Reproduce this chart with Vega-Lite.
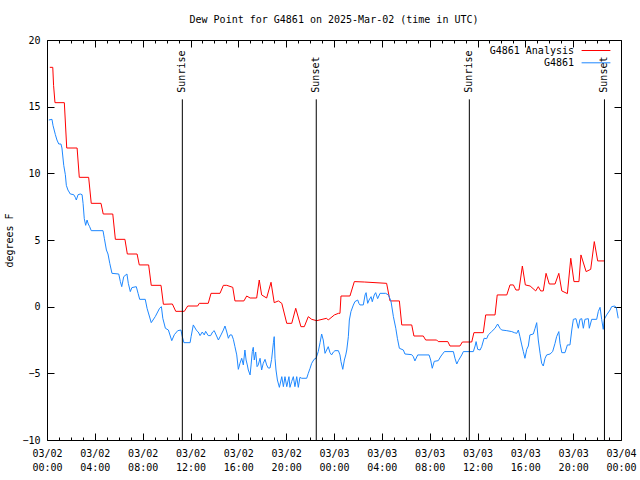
{
  "$schema": "https://vega.github.io/schema/vega-lite/v6.json",
  "width": 574,
  "height": 400,
  "autosize": {"type": "none"},
  "padding": {"left": 47, "top": 40, "right": 19, "bottom": 40},
  "background": "white",
  "config": {
    "font": "DejaVu Sans Mono",
    "view": {"stroke": "black", "strokeWidth": 1},
    "axis": {"domain": false, "grid": false, "labelFont": "DejaVu Sans Mono", "labelFontSize": 10, "labelColor": "black", "tickColor": "black", "titleFont": "DejaVu Sans Mono", "titleFontSize": 10, "titleFontWeight": "normal", "titleColor": "black"},
    "legend": {"labelFont": "DejaVu Sans Mono", "labelFontSize": 10, "labelColor": "black"}
  },
  "title": {"text": "Dew Point for G4861 on 2025-Mar-02 (time in UTC)", "font": "DejaVu Sans Mono", "fontSize": 10, "fontWeight": "normal", "color": "black", "anchor": "middle", "frame": "group", "offset": 10},
  "datasets": {
    "ana": [
      {"t": "2025-03-02T00:14:00Z", "v": 17.95}, {"t": "2025-03-02T00:29:00Z", "v": 17.95}, {"t": "2025-03-02T00:33:00Z", "v": 16.6}, {"t": "2025-03-02T00:40:00Z", "v": 15.3},
      {"t": "2025-03-02T01:27:00Z", "v": 15.3}, {"t": "2025-03-02T01:39:00Z", "v": 11.9}, {"t": "2025-03-02T02:31:00Z", "v": 11.9}, {"t": "2025-03-02T02:42:00Z", "v": 9.7},
      {"t": "2025-03-02T03:29:00Z", "v": 9.7}, {"t": "2025-03-02T03:42:00Z", "v": 7.75}, {"t": "2025-03-02T04:31:00Z", "v": 7.75}, {"t": "2025-03-02T04:42:00Z", "v": 6.95},
      {"t": "2025-03-02T05:30:00Z", "v": 6.95}, {"t": "2025-03-02T05:43:00Z", "v": 5.05}, {"t": "2025-03-02T06:31:00Z", "v": 5.05}, {"t": "2025-03-02T06:43:00Z", "v": 3.95},
      {"t": "2025-03-02T07:32:00Z", "v": 3.95}, {"t": "2025-03-02T07:43:00Z", "v": 3.13}, {"t": "2025-03-02T08:30:00Z", "v": 3.13}, {"t": "2025-03-02T08:43:00Z", "v": 1.6},
      {"t": "2025-03-02T09:32:00Z", "v": 1.6}, {"t": "2025-03-02T09:44:00Z", "v": 0.18}, {"t": "2025-03-02T10:29:00Z", "v": 0.2}, {"t": "2025-03-02T10:46:00Z", "v": -0.35},
      {"t": "2025-03-02T11:29:00Z", "v": -0.35}, {"t": "2025-03-02T11:46:00Z", "v": 0.05}, {"t": "2025-03-02T12:36:00Z", "v": 0.05}, {"t": "2025-03-02T12:44:00Z", "v": 0.25},
      {"t": "2025-03-02T13:29:00Z", "v": 0.25}, {"t": "2025-03-02T13:43:00Z", "v": 1.0}, {"t": "2025-03-02T14:28:00Z", "v": 1.0}, {"t": "2025-03-02T14:45:00Z", "v": 1.6},
      {"t": "2025-03-02T15:02:00Z", "v": 1.6}, {"t": "2025-03-02T15:32:00Z", "v": 1.45}, {"t": "2025-03-02T15:43:00Z", "v": 0.43}, {"t": "2025-03-02T16:28:00Z", "v": 0.43},
      {"t": "2025-03-02T16:42:00Z", "v": 0.8}, {"t": "2025-03-02T16:59:00Z", "v": 0.65}, {"t": "2025-03-02T17:32:00Z", "v": 0.65}, {"t": "2025-03-02T17:45:00Z", "v": 2.0},
      {"t": "2025-03-02T17:57:00Z", "v": 0.88}, {"t": "2025-03-02T18:22:00Z", "v": 0.65}, {"t": "2025-03-02T18:44:00Z", "v": 1.83}, {"t": "2025-03-02T19:00:00Z", "v": 0.3},
      {"t": "2025-03-02T19:21:00Z", "v": 0.43}, {"t": "2025-03-02T19:38:00Z", "v": 0.25}, {"t": "2025-03-02T20:03:00Z", "v": -1.25}, {"t": "2025-03-02T20:28:00Z", "v": -1.25},
      {"t": "2025-03-02T20:48:00Z", "v": -0.12}, {"t": "2025-03-02T21:14:00Z", "v": -1.5}, {"t": "2025-03-02T21:31:00Z", "v": -1.5}, {"t": "2025-03-02T21:51:00Z", "v": -0.75},
      {"t": "2025-03-02T22:08:00Z", "v": -0.95}, {"t": "2025-03-02T22:33:00Z", "v": -1.05}, {"t": "2025-03-02T23:23:00Z", "v": -0.87}, {"t": "2025-03-02T23:31:00Z", "v": -1.0},
      {"t": "2025-03-03T00:02:00Z", "v": -0.62}, {"t": "2025-03-03T00:22:00Z", "v": -0.5}, {"t": "2025-03-03T00:30:00Z", "v": -0.5}, {"t": "2025-03-03T00:35:00Z", "v": 0.8},
      {"t": "2025-03-03T01:20:00Z", "v": 0.8}, {"t": "2025-03-03T01:42:00Z", "v": 1.88}, {"t": "2025-03-03T02:32:00Z", "v": 1.85}, {"t": "2025-03-03T04:24:00Z", "v": 1.75},
      {"t": "2025-03-03T04:41:00Z", "v": 0.43}, {"t": "2025-03-03T05:28:00Z", "v": 0.43}, {"t": "2025-03-03T05:40:00Z", "v": -1.37}, {"t": "2025-03-03T06:30:00Z", "v": -1.37},
      {"t": "2025-03-03T06:41:00Z", "v": -2.2}, {"t": "2025-03-03T07:28:00Z", "v": -2.2}, {"t": "2025-03-03T07:40:00Z", "v": -2.5}, {"t": "2025-03-03T08:35:00Z", "v": -2.5},
      {"t": "2025-03-03T08:43:00Z", "v": -2.62}, {"t": "2025-03-03T09:31:00Z", "v": -2.62}, {"t": "2025-03-03T09:42:00Z", "v": -2.95}, {"t": "2025-03-03T10:32:00Z", "v": -2.95},
      {"t": "2025-03-03T10:44:00Z", "v": -2.65}, {"t": "2025-03-03T11:31:00Z", "v": -2.65}, {"t": "2025-03-03T11:42:00Z", "v": -1.95}, {"t": "2025-03-03T12:29:00Z", "v": -1.95},
      {"t": "2025-03-03T12:41:00Z", "v": -0.62}, {"t": "2025-03-03T13:28:00Z", "v": -0.62}, {"t": "2025-03-03T13:39:00Z", "v": 0.88}, {"t": "2025-03-03T14:27:00Z", "v": 0.88},
      {"t": "2025-03-03T14:43:00Z", "v": 1.63}, {"t": "2025-03-03T15:00:00Z", "v": 1.63}, {"t": "2025-03-03T15:13:00Z", "v": 1.25}, {"t": "2025-03-03T15:28:00Z", "v": 1.25},
      {"t": "2025-03-03T15:45:00Z", "v": 3.05}, {"t": "2025-03-03T16:00:00Z", "v": 1.63}, {"t": "2025-03-03T16:24:00Z", "v": 1.55}, {"t": "2025-03-03T16:52:00Z", "v": 1.18},
      {"t": "2025-03-03T17:05:00Z", "v": 1.5}, {"t": "2025-03-03T17:17:00Z", "v": 1.18}, {"t": "2025-03-03T17:30:00Z", "v": 1.18}, {"t": "2025-03-03T17:44:00Z", "v": 2.5},
      {"t": "2025-03-03T18:00:00Z", "v": 1.7}, {"t": "2025-03-03T18:29:00Z", "v": 1.7}, {"t": "2025-03-03T18:48:00Z", "v": 2.5}, {"t": "2025-03-03T19:03:00Z", "v": 1.18},
      {"t": "2025-03-03T19:31:00Z", "v": 0.98}, {"t": "2025-03-03T19:48:00Z", "v": 3.63}, {"t": "2025-03-03T20:04:00Z", "v": 1.88}, {"t": "2025-03-03T20:29:00Z", "v": 1.88},
      {"t": "2025-03-03T20:39:00Z", "v": 3.88}, {"t": "2025-03-03T21:05:00Z", "v": 2.63}, {"t": "2025-03-03T21:28:00Z", "v": 2.8}, {"t": "2025-03-03T21:46:00Z", "v": 4.88},
      {"t": "2025-03-03T22:03:00Z", "v": 3.43}, {"t": "2025-03-03T22:36:00Z", "v": 3.43}
    ],
    "obs": [
      {"t": "2025-03-02T00:09:00Z", "v": 14.0}, {"t": "2025-03-02T00:25:00Z", "v": 14.05}, {"t": "2025-03-02T00:30:00Z", "v": 13.6}, {"t": "2025-03-02T00:42:00Z", "v": 12.9},
      {"t": "2025-03-02T00:50:00Z", "v": 12.5}, {"t": "2025-03-02T00:59:00Z", "v": 12.2}, {"t": "2025-03-02T01:10:00Z", "v": 12.2}, {"t": "2025-03-02T01:15:00Z", "v": 11.9},
      {"t": "2025-03-02T01:24:00Z", "v": 10.6}, {"t": "2025-03-02T01:32:00Z", "v": 9.9}, {"t": "2025-03-02T01:37:00Z", "v": 9.1}, {"t": "2025-03-02T01:45:00Z", "v": 8.75},
      {"t": "2025-03-02T01:57:00Z", "v": 8.45}, {"t": "2025-03-02T02:14:00Z", "v": 8.4}, {"t": "2025-03-02T02:22:00Z", "v": 8.2}, {"t": "2025-03-02T02:27:00Z", "v": 8.0},
      {"t": "2025-03-02T02:36:00Z", "v": 8.4}, {"t": "2025-03-02T02:47:00Z", "v": 8.45}, {"t": "2025-03-02T02:56:00Z", "v": 8.4}, {"t": "2025-03-02T03:01:00Z", "v": 7.75},
      {"t": "2025-03-02T03:07:00Z", "v": 6.6}, {"t": "2025-03-02T03:14:00Z", "v": 6.1}, {"t": "2025-03-02T03:21:00Z", "v": 6.5}, {"t": "2025-03-02T03:27:00Z", "v": 6.2},
      {"t": "2025-03-02T03:34:00Z", "v": 6.0}, {"t": "2025-03-02T03:42:00Z", "v": 5.7}, {"t": "2025-03-02T04:41:00Z", "v": 5.7}, {"t": "2025-03-02T04:48:00Z", "v": 5.1},
      {"t": "2025-03-02T04:58:00Z", "v": 4.25}, {"t": "2025-03-02T05:06:00Z", "v": 3.95}, {"t": "2025-03-02T05:15:00Z", "v": 3.25}, {"t": "2025-03-02T05:26:00Z", "v": 2.5},
      {"t": "2025-03-02T06:00:00Z", "v": 2.45}, {"t": "2025-03-02T06:08:00Z", "v": 1.88}, {"t": "2025-03-02T06:15:00Z", "v": 1.5}, {"t": "2025-03-02T06:25:00Z", "v": 2.25},
      {"t": "2025-03-02T06:41:00Z", "v": 2.45}, {"t": "2025-03-02T06:48:00Z", "v": 1.75}, {"t": "2025-03-02T06:58:00Z", "v": 1.13}, {"t": "2025-03-02T07:06:00Z", "v": 1.43},
      {"t": "2025-03-02T07:28:00Z", "v": 1.5}, {"t": "2025-03-02T07:37:00Z", "v": 1.0}, {"t": "2025-03-02T07:45:00Z", "v": 0.55}, {"t": "2025-03-02T08:13:00Z", "v": 0.55},
      {"t": "2025-03-02T08:22:00Z", "v": -0.12}, {"t": "2025-03-02T08:43:00Z", "v": -1.2}, {"t": "2025-03-02T09:03:00Z", "v": -0.75}, {"t": "2025-03-02T09:25:00Z", "v": -0.12},
      {"t": "2025-03-02T09:34:00Z", "v": 0.0}, {"t": "2025-03-02T09:41:00Z", "v": -0.87}, {"t": "2025-03-02T09:54:00Z", "v": -1.62}, {"t": "2025-03-02T10:09:00Z", "v": -1.75},
      {"t": "2025-03-02T10:26:00Z", "v": -2.55}, {"t": "2025-03-02T10:39:00Z", "v": -2.1}, {"t": "2025-03-02T10:56:00Z", "v": -1.8}, {"t": "2025-03-02T11:12:00Z", "v": -1.75},
      {"t": "2025-03-02T11:19:00Z", "v": -2.25}, {"t": "2025-03-02T11:27:00Z", "v": -2.7}, {"t": "2025-03-02T11:58:00Z", "v": -2.7}, {"t": "2025-03-02T12:03:00Z", "v": -2.25},
      {"t": "2025-03-02T12:14:00Z", "v": -1.37}, {"t": "2025-03-02T12:23:00Z", "v": -1.6}, {"t": "2025-03-02T12:31:00Z", "v": -1.8}, {"t": "2025-03-02T12:39:00Z", "v": -1.9},
      {"t": "2025-03-02T12:48:00Z", "v": -2.17}, {"t": "2025-03-02T12:59:00Z", "v": -1.9}, {"t": "2025-03-02T13:09:00Z", "v": -2.12}, {"t": "2025-03-02T13:16:00Z", "v": -1.85},
      {"t": "2025-03-02T13:29:00Z", "v": -2.17}, {"t": "2025-03-02T13:41:00Z", "v": -2.17}, {"t": "2025-03-02T13:51:00Z", "v": -1.9}, {"t": "2025-03-02T13:59:00Z", "v": -1.8},
      {"t": "2025-03-02T14:11:00Z", "v": -2.2}, {"t": "2025-03-02T14:20:00Z", "v": -2.5}, {"t": "2025-03-02T14:33:00Z", "v": -2.12}, {"t": "2025-03-02T14:45:00Z", "v": -1.75},
      {"t": "2025-03-02T14:53:00Z", "v": -1.45}, {"t": "2025-03-02T15:02:00Z", "v": -1.9}, {"t": "2025-03-02T15:10:00Z", "v": -2.37}, {"t": "2025-03-02T15:18:00Z", "v": -2.12},
      {"t": "2025-03-02T15:27:00Z", "v": -2.12}, {"t": "2025-03-02T15:35:00Z", "v": -2.45}, {"t": "2025-03-02T15:43:00Z", "v": -3.0}, {"t": "2025-03-02T15:52:00Z", "v": -3.62},
      {"t": "2025-03-02T16:00:00Z", "v": -4.7}, {"t": "2025-03-02T16:08:00Z", "v": -4.25}, {"t": "2025-03-02T16:17:00Z", "v": -3.87}, {"t": "2025-03-02T16:25:00Z", "v": -4.37},
      {"t": "2025-03-02T16:33:00Z", "v": -3.25}, {"t": "2025-03-02T16:39:00Z", "v": -4.0}, {"t": "2025-03-02T16:45:00Z", "v": -4.37}, {"t": "2025-03-02T16:50:00Z", "v": -4.75},
      {"t": "2025-03-02T16:59:00Z", "v": -5.12}, {"t": "2025-03-02T17:04:00Z", "v": -4.37}, {"t": "2025-03-02T17:10:00Z", "v": -3.37}, {"t": "2025-03-02T17:15:00Z", "v": -3.05},
      {"t": "2025-03-02T17:20:00Z", "v": -4.0}, {"t": "2025-03-02T17:27:00Z", "v": -3.4}, {"t": "2025-03-02T17:34:00Z", "v": -4.5}, {"t": "2025-03-02T17:40:00Z", "v": -4.37},
      {"t": "2025-03-02T17:49:00Z", "v": -3.87}, {"t": "2025-03-02T17:57:00Z", "v": -4.75}, {"t": "2025-03-02T18:05:00Z", "v": -4.25}, {"t": "2025-03-02T18:14:00Z", "v": -3.95},
      {"t": "2025-03-02T18:22:00Z", "v": -4.37}, {"t": "2025-03-02T18:30:00Z", "v": -4.6}, {"t": "2025-03-02T18:39:00Z", "v": -4.6}, {"t": "2025-03-02T18:47:00Z", "v": -3.95},
      {"t": "2025-03-02T18:56:00Z", "v": -2.7}, {"t": "2025-03-02T19:00:00Z", "v": -2.25}, {"t": "2025-03-02T19:04:00Z", "v": -3.87}, {"t": "2025-03-02T19:09:00Z", "v": -4.75},
      {"t": "2025-03-02T19:16:00Z", "v": -5.5}, {"t": "2025-03-02T19:26:00Z", "v": -6.05}, {"t": "2025-03-02T19:38:00Z", "v": -5.25}, {"t": "2025-03-02T19:46:00Z", "v": -6.0},
      {"t": "2025-03-02T19:54:00Z", "v": -5.25}, {"t": "2025-03-02T20:03:00Z", "v": -6.0}, {"t": "2025-03-02T20:14:00Z", "v": -5.25}, {"t": "2025-03-02T20:19:00Z", "v": -6.05},
      {"t": "2025-03-02T20:28:00Z", "v": -5.6}, {"t": "2025-03-02T20:36:00Z", "v": -5.25}, {"t": "2025-03-02T20:44:00Z", "v": -6.0}, {"t": "2025-03-02T20:53:00Z", "v": -5.25},
      {"t": "2025-03-02T21:01:00Z", "v": -6.05}, {"t": "2025-03-02T21:09:00Z", "v": -5.3}, {"t": "2025-03-02T21:18:00Z", "v": -5.37}, {"t": "2025-03-02T21:43:00Z", "v": -5.37},
      {"t": "2025-03-02T21:51:00Z", "v": -5.0}, {"t": "2025-03-02T22:00:00Z", "v": -4.62}, {"t": "2025-03-02T22:08:00Z", "v": -4.25}, {"t": "2025-03-02T22:20:00Z", "v": -3.95},
      {"t": "2025-03-02T22:30:00Z", "v": -3.87}, {"t": "2025-03-02T22:41:00Z", "v": -3.37}, {"t": "2025-03-02T22:50:00Z", "v": -2.7}, {"t": "2025-03-02T22:58:00Z", "v": -2.05},
      {"t": "2025-03-02T23:06:00Z", "v": -2.5}, {"t": "2025-03-02T23:15:00Z", "v": -3.5}, {"t": "2025-03-02T23:23:00Z", "v": -3.25}, {"t": "2025-03-02T23:31:00Z", "v": -3.0},
      {"t": "2025-03-02T23:40:00Z", "v": -3.45}, {"t": "2025-03-02T23:48:00Z", "v": -3.62}, {"t": "2025-03-02T23:57:00Z", "v": -3.4}, {"t": "2025-03-03T00:05:00Z", "v": -3.3},
      {"t": "2025-03-03T00:22:00Z", "v": -3.3}, {"t": "2025-03-03T00:30:00Z", "v": -3.62}, {"t": "2025-03-03T00:35:00Z", "v": -4.12}, {"t": "2025-03-03T00:44:00Z", "v": -4.7},
      {"t": "2025-03-03T00:52:00Z", "v": -4.0}, {"t": "2025-03-03T00:59:00Z", "v": -3.62}, {"t": "2025-03-03T01:04:00Z", "v": -3.25}, {"t": "2025-03-03T01:12:00Z", "v": -2.25},
      {"t": "2025-03-03T01:17:00Z", "v": -1.0}, {"t": "2025-03-03T01:25:00Z", "v": -0.37}, {"t": "2025-03-03T01:37:00Z", "v": 0.12}, {"t": "2025-03-03T01:45:00Z", "v": 0.38},
      {"t": "2025-03-03T01:59:00Z", "v": 0.5}, {"t": "2025-03-03T02:05:00Z", "v": 0.25}, {"t": "2025-03-03T02:10:00Z", "v": 0.13}, {"t": "2025-03-03T02:27:00Z", "v": 0.13},
      {"t": "2025-03-03T02:36:00Z", "v": 0.88}, {"t": "2025-03-03T02:41:00Z", "v": 1.05}, {"t": "2025-03-03T02:49:00Z", "v": 0.25}, {"t": "2025-03-03T02:56:00Z", "v": 0.5},
      {"t": "2025-03-03T03:06:00Z", "v": 0.75}, {"t": "2025-03-03T03:12:00Z", "v": 0.37}, {"t": "2025-03-03T03:22:00Z", "v": 0.88}, {"t": "2025-03-03T03:29:00Z", "v": 1.05},
      {"t": "2025-03-03T03:39:00Z", "v": 0.6}, {"t": "2025-03-03T03:51:00Z", "v": 1.0}, {"t": "2025-03-03T04:19:00Z", "v": 1.0}, {"t": "2025-03-03T04:33:00Z", "v": 0.88},
      {"t": "2025-03-03T04:46:00Z", "v": 0.4}, {"t": "2025-03-03T04:58:00Z", "v": -0.75}, {"t": "2025-03-03T05:10:00Z", "v": -1.62}, {"t": "2025-03-03T05:18:00Z", "v": -2.37},
      {"t": "2025-03-03T05:28:00Z", "v": -3.12}, {"t": "2025-03-03T05:48:00Z", "v": -3.25}, {"t": "2025-03-03T05:56:00Z", "v": -3.55}, {"t": "2025-03-03T06:30:00Z", "v": -3.6},
      {"t": "2025-03-03T06:38:00Z", "v": -3.75}, {"t": "2025-03-03T06:46:00Z", "v": -4.07}, {"t": "2025-03-03T07:00:00Z", "v": -3.62}, {"t": "2025-03-03T07:57:00Z", "v": -3.62},
      {"t": "2025-03-03T08:05:00Z", "v": -4.0}, {"t": "2025-03-03T08:13:00Z", "v": -4.62}, {"t": "2025-03-03T08:23:00Z", "v": -4.1}, {"t": "2025-03-03T08:43:00Z", "v": -4.05},
      {"t": "2025-03-03T08:57:00Z", "v": -3.7}, {"t": "2025-03-03T09:14:00Z", "v": -3.37}, {"t": "2025-03-03T09:59:00Z", "v": -3.37}, {"t": "2025-03-03T10:07:00Z", "v": -3.87},
      {"t": "2025-03-03T10:16:00Z", "v": -4.3}, {"t": "2025-03-03T10:24:00Z", "v": -4.05}, {"t": "2025-03-03T10:41:00Z", "v": -3.62}, {"t": "2025-03-03T10:49:00Z", "v": -3.37},
      {"t": "2025-03-03T11:39:00Z", "v": -3.37}, {"t": "2025-03-03T11:48:00Z", "v": -2.95}, {"t": "2025-03-03T11:53:00Z", "v": -2.62}, {"t": "2025-03-03T12:01:00Z", "v": -3.2},
      {"t": "2025-03-03T12:13:00Z", "v": -3.25}, {"t": "2025-03-03T12:21:00Z", "v": -3.0}, {"t": "2025-03-03T12:33:00Z", "v": -2.37}, {"t": "2025-03-03T12:46:00Z", "v": -2.4},
      {"t": "2025-03-03T12:54:00Z", "v": -2.12}, {"t": "2025-03-03T13:11:00Z", "v": -1.87}, {"t": "2025-03-03T13:28:00Z", "v": -1.62}, {"t": "2025-03-03T13:41:00Z", "v": -1.3},
      {"t": "2025-03-03T13:53:00Z", "v": -1.62}, {"t": "2025-03-03T14:01:00Z", "v": -1.75}, {"t": "2025-03-03T14:27:00Z", "v": -1.8}, {"t": "2025-03-03T14:52:00Z", "v": -1.87},
      {"t": "2025-03-03T15:05:00Z", "v": -1.95}, {"t": "2025-03-03T15:17:00Z", "v": -2.0}, {"t": "2025-03-03T15:25:00Z", "v": -1.75}, {"t": "2025-03-03T15:33:00Z", "v": -2.25},
      {"t": "2025-03-03T15:42:00Z", "v": -2.87}, {"t": "2025-03-03T15:50:00Z", "v": -3.37}, {"t": "2025-03-03T15:58:00Z", "v": -3.87}, {"t": "2025-03-03T16:07:00Z", "v": -3.2},
      {"t": "2025-03-03T16:15:00Z", "v": -2.95}, {"t": "2025-03-03T16:23:00Z", "v": -2.12}, {"t": "2025-03-03T16:40:00Z", "v": -2.05}, {"t": "2025-03-03T16:49:00Z", "v": -1.62},
      {"t": "2025-03-03T16:57:00Z", "v": -1.2}, {"t": "2025-03-03T17:05:00Z", "v": -2.5}, {"t": "2025-03-03T17:14:00Z", "v": -3.5}, {"t": "2025-03-03T17:22:00Z", "v": -4.25},
      {"t": "2025-03-03T17:30:00Z", "v": -4.45}, {"t": "2025-03-03T17:39:00Z", "v": -3.87}, {"t": "2025-03-03T17:47:00Z", "v": -3.62}, {"t": "2025-03-03T18:04:00Z", "v": -3.55},
      {"t": "2025-03-03T18:17:00Z", "v": -3.37}, {"t": "2025-03-03T18:29:00Z", "v": -2.75}, {"t": "2025-03-03T18:37:00Z", "v": -2.25}, {"t": "2025-03-03T18:48:00Z", "v": -1.87},
      {"t": "2025-03-03T18:54:00Z", "v": -2.75}, {"t": "2025-03-03T19:03:00Z", "v": -3.45}, {"t": "2025-03-03T19:19:00Z", "v": -3.45}, {"t": "2025-03-03T19:31:00Z", "v": -2.87},
      {"t": "2025-03-03T19:44:00Z", "v": -2.87}, {"t": "2025-03-03T19:53:00Z", "v": -1.75}, {"t": "2025-03-03T20:01:00Z", "v": -0.95}, {"t": "2025-03-03T20:14:00Z", "v": -0.9},
      {"t": "2025-03-03T20:26:00Z", "v": -1.62}, {"t": "2025-03-03T20:34:00Z", "v": -0.95}, {"t": "2025-03-03T20:43:00Z", "v": -0.9}, {"t": "2025-03-03T20:51:00Z", "v": -1.62},
      {"t": "2025-03-03T20:59:00Z", "v": -0.95}, {"t": "2025-03-03T21:16:00Z", "v": -0.9}, {"t": "2025-03-03T21:21:00Z", "v": -1.62}, {"t": "2025-03-03T21:33:00Z", "v": -0.95},
      {"t": "2025-03-03T21:58:00Z", "v": -0.95}, {"t": "2025-03-03T22:06:00Z", "v": -0.37}, {"t": "2025-03-03T22:15:00Z", "v": -0.05}, {"t": "2025-03-03T22:23:00Z", "v": -0.95},
      {"t": "2025-03-03T22:31:00Z", "v": -1.7}, {"t": "2025-03-03T22:36:00Z", "v": -0.95}, {"t": "2025-03-03T22:48:00Z", "v": -0.62}, {"t": "2025-03-03T23:05:00Z", "v": -0.25},
      {"t": "2025-03-03T23:13:00Z", "v": 0.0}, {"t": "2025-03-03T23:29:00Z", "v": 0.05}, {"t": "2025-03-03T23:37:00Z", "v": -0.1}, {"t": "2025-03-03T23:46:00Z", "v": -0.87}
    ],
    "sun": [
      {"t": "2025-03-02T11:19:00Z", "label": "Sunrise"},
      {"t": "2025-03-02T22:31:00Z", "label": "Sunset"},
      {"t": "2025-03-03T11:19:00Z", "label": "Sunrise"},
      {"t": "2025-03-03T22:37:00Z", "label": "Sunset"}
    ]
  },
  "resolve": {"axis": {"x": "independent", "y": "independent"}},
  "layer": [
    {
      "data": {"name": "ana"},
      "mark": {"type": "line", "strokeWidth": 1, "clip": true},
      "encoding": {
        "x": {"field": "t", "type": "temporal",
          "scale": {"type": "utc", "domain": [1740873600000, 1741046400000]},
          "axis": {"orient": "bottom", "title": null,
            "values": [1740873600000, 1740877200000, 1740880800000, 1740884400000, 1740888000000, 1740891600000, 1740895200000, 1740898800000, 1740902400000, 1740906000000, 1740909600000, 1740913200000, 1740916800000, 1740920400000, 1740924000000, 1740927600000, 1740931200000, 1740934800000, 1740938400000, 1740942000000, 1740945600000, 1740949200000, 1740952800000, 1740956400000, 1740960000000, 1740963600000, 1740967200000, 1740970800000, 1740974400000, 1740978000000, 1740981600000, 1740985200000, 1740988800000, 1740992400000, 1740996000000, 1740999600000, 1741003200000, 1741006800000, 1741010400000, 1741014000000, 1741017600000, 1741021200000, 1741024800000, 1741028400000, 1741032000000, 1741035600000, 1741039200000, 1741042800000, 1741046400000],
            "labelOverlap": false, "labelFlush": false, "labelBound": false,
            "labelExpr": "utchours(datum.value) % 4 == 0 ? [utcFormat(datum.value, '%m/%d'), utcFormat(datum.value, '%H:%M')] : ''",
            "labelLineHeight": 14, "labelPadding": 15, "labelBaseline": "top",
            "tickSize": {"condition": {"test": "utchours(datum.value) % 4 == 0", "value": -7}, "value": -3}}},
        "y": {"field": "v", "type": "quantitative",
          "scale": {"domain": [-10, 20], "nice": false, "zero": false},
          "axis": {"orient": "left", "title": "degrees F", "values": [-10, -5, 0, 5, 10, 15, 20], "tickSize": -7, "labelPadding": 14, "titlePadding": 7}},
        "color": {"datum": "G4861 Analysis", "type": "nominal",
          "scale": {"domain": ["G4861 Analysis", "G4861"], "range": ["#ff0000", "#1e88ff"]},
          "legend": {"title": null, "orient": "none", "legendX": 542.5, "legendY": 4, "padding": 0, "symbolType": "M-2.4,0H2.4", "symbolSize": 144, "symbolStrokeWidth": 1, "rowPadding": 0.3, "labelAlign": "right", "labelOffset": -28.5, "labelFontSize": 10}}
      }
    },
    {
      "data": {"name": "obs"},
      "mark": {"type": "line", "strokeWidth": 1, "clip": true},
      "encoding": {
        "x": {"field": "t", "type": "temporal",
          "axis": {"orient": "top", "title": null, "labels": false,
            "values": [1740873600000, 1740877200000, 1740880800000, 1740884400000, 1740888000000, 1740891600000, 1740895200000, 1740898800000, 1740902400000, 1740906000000, 1740909600000, 1740913200000, 1740916800000, 1740920400000, 1740924000000, 1740927600000, 1740931200000, 1740934800000, 1740938400000, 1740942000000, 1740945600000, 1740949200000, 1740952800000, 1740956400000, 1740960000000, 1740963600000, 1740967200000, 1740970800000, 1740974400000, 1740978000000, 1740981600000, 1740985200000, 1740988800000, 1740992400000, 1740996000000, 1740999600000, 1741003200000, 1741006800000, 1741010400000, 1741014000000, 1741017600000, 1741021200000, 1741024800000, 1741028400000, 1741032000000, 1741035600000, 1741039200000, 1741042800000, 1741046400000],
            "tickSize": {"condition": {"test": "utchours(datum.value) % 4 == 0", "value": -7}, "value": -3}}},
        "y": {"field": "v", "type": "quantitative",
          "axis": {"orient": "right", "title": null, "labels": false, "values": [-10, -5, 0, 5, 10, 15, 20], "tickSize": -7}},
        "color": {"datum": "G4861", "type": "nominal"}
      }
    },
    {
      "data": {"name": "sun"},
      "mark": {"type": "rule", "color": "black", "strokeWidth": 1},
      "encoding": {
        "x": {"field": "t", "type": "temporal", "axis": null},
        "y": {"datum": -10, "type": "quantitative", "axis": null},
        "y2": {"datum": 15.55}
      }
    },
    {
      "data": {"name": "sun"},
      "mark": {"type": "text", "angle": 270, "align": "left", "baseline": "middle", "font": "DejaVu Sans Mono", "fontSize": 10, "color": "black"},
      "encoding": {
        "x": {"field": "t", "type": "temporal", "axis": null},
        "y": {"datum": 16.05, "type": "quantitative", "axis": null},
        "text": {"field": "label"}
      }
    }
  ]
}
